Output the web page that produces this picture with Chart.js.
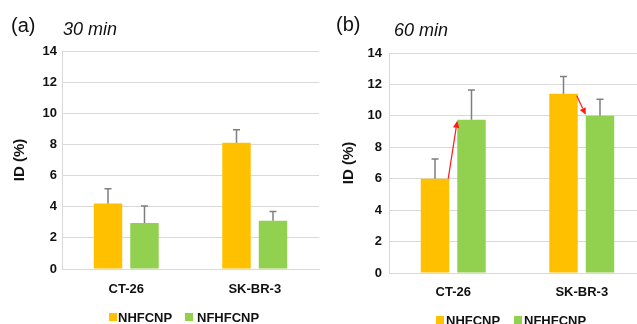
<!DOCTYPE html>
<html>
<head>
<meta charset="utf-8">
<script src="https://cdn.jsdelivr.net/npm/chart.js@4.4.1/dist/chart.umd.min.js"></script>
<style>
  html, body { margin:0; padding:0; background:#fff; }
  body { width:637px; height:324px; overflow:hidden; position:relative; font-family:"Liberation Sans", Arial, sans-serif; }
  canvas { position:absolute; top:0; }
  .t { position:absolute; line-height:1; color:#111; white-space:nowrap; }
  .lab { font-size:20px; }
  .tm { font-size:18px; font-style:italic; }
  .lg { position:absolute; font-size:13px; font-weight:bold; line-height:1; color:#111; white-space:nowrap; }
  .bx { position:absolute; width:8px; height:8px; }
</style>
</head>
<body>
<canvas id="c1" width="320" height="324" style="left:0"></canvas>
<canvas id="c2" width="330" height="324" style="left:320px"></canvas>

<div class="t lab" style="left:11px;top:15px">(a)</div>
<div class="t tm" style="left:63px;top:20px">30 min</div>
<div class="t lab" style="left:336px;top:14px">(b)</div>
<div class="t tm" style="left:394px;top:21px">60 min</div>

<div class="bx" style="left:109px;top:313px;background:#FFC000"></div>
<div class="lg" style="left:118px;top:311px">NHFCNP</div>
<div class="bx" style="left:185px;top:313px;background:#92D050"></div>
<div class="lg" style="left:197px;top:311px">NFHFCNP</div>

<div class="bx" style="left:436px;top:316px;background:#FFC000"></div>
<div class="lg" style="left:446px;top:314px">NHFCNP</div>
<div class="bx" style="left:514px;top:316px;background:#92D050"></div>
<div class="lg" style="left:524px;top:314px">NFHFCNP</div>

<script>
// ---- data ----
const categories = ['CT-26', 'SK-BR-3'];
const seriesNames = ['NHFCNP', 'NFHFCNP'];
// 30 min
const nh30 = [4.2, 8.1];
const nh30sd = [0.95, 0.85];
const nf30 = [2.95, 3.1];
const nf30sd = [1.1, 0.6];
// 60 min
const nh60 = [6.0, 11.4];
const nh60sd = [1.25, 1.1];
const nf60 = [9.75, 10.0];
const nf60sd = [1.9, 1.05];
const yTicks = [0, 2, 4, 6, 8, 10, 12, 14];

const ORANGE = '#FFC000', GREEN = '#92D050', GRID = '#d9d9d9';
Chart.defaults.font.family = '"Liberation Sans", Arial, sans-serif';
Chart.defaults.color = '#111';

const errorBars = {
  id: 'errorBars',
  afterDatasetsDraw(chart) {
    const ctx = chart.ctx, ys = chart.scales.y;
    chart.data.datasets.forEach((ds, di) => {
      const meta = chart.getDatasetMeta(di);
      meta.data.forEach((el, i) => {
        const top = ys.getPixelForValue(ds.data[i] + ds.sd[i]);
        ctx.save();
        ctx.strokeStyle = '#7f7f7f';
        ctx.lineWidth = 1.5;
        ctx.beginPath();
        ctx.moveTo(el.x, el.y);
        ctx.lineTo(el.x, top);
        ctx.moveTo(el.x - 3.5, top);
        ctx.lineTo(el.x + 3.5, top);
        ctx.stroke();
        ctx.restore();
      });
    });
  }
};

const arrows = {
  id: 'arrows',
  afterDatasetsDraw(chart, args, opts) {
    if (!opts.show) return;
    const ctx = chart.ctx;
    const m0 = chart.getDatasetMeta(0), m1 = chart.getDatasetMeta(1);
    m0.data.forEach((a, i) => {
      const b = m1.data[i];
      const x1 = a.x + a.width / 2 - 1, y1 = a.y + (i === 1 ? 2 : 0);
      const x2 = b.x - b.width / 2, y2 = b.y + (i === 1 ? -1 : 1);
      const ang = Math.atan2(y2 - y1, x2 - x1);
      const L = 7, W = 3.2;
      ctx.save();
      ctx.strokeStyle = '#ff1a1a';
      ctx.fillStyle = '#ff1a1a';
      ctx.lineWidth = 1.2;
      ctx.beginPath();
      ctx.moveTo(x1, y1);
      ctx.lineTo(x2 - L * Math.cos(ang), y2 - L * Math.sin(ang));
      ctx.stroke();
      ctx.beginPath();
      ctx.moveTo(x2, y2);
      ctx.lineTo(x2 - L * Math.cos(ang) + W * Math.sin(ang), y2 - L * Math.sin(ang) - W * Math.cos(ang));
      ctx.lineTo(x2 - L * Math.cos(ang) - W * Math.sin(ang), y2 - L * Math.sin(ang) + W * Math.cos(ang));
      ctx.closePath();
      ctx.fill();
      ctx.restore();
    });
  }
};

function makeChart(id, a, asd, b, bsd, cfg) {
  return new Chart(document.getElementById(id), {
    type: 'bar',
    data: {
      labels: categories,
      datasets: [
        { label: seriesNames[0], data: a, sd: asd, backgroundColor: ORANGE },
        { label: seriesNames[1], data: b, sd: bsd, backgroundColor: GREEN }
      ]
    },
    options: {
      responsive: false,
      animation: false,
      devicePixelRatio: 1,
      categoryPercentage: 0.568,
      barPercentage: 0.78,
      layout: { padding: { top: cfg.top, right: cfg.right, left: 0, bottom: 0 } },
      plugins: {
        legend: { display: false },
        tooltip: { enabled: false },
        arrows: { show: cfg.arrows }
      },
      scales: {
        x: {
          grid: { display: false, drawTicks: false },
          border: { color: GRID, width: 1 },
          ticks: { font: { size: 13, weight: 'bold' }, padding: cfg.xpad, color: '#111' },
          afterFit(s) { s.height = cfg.xh; }
        },
        y: {
          min: 0, max: 14,
          afterBuildTicks(s) { s.ticks = yTicks.map(v => ({ value: v })); },
          grid: { color: GRID, lineWidth: 1, drawTicks: false },
          border: { color: GRID, width: 1 },
          ticks: { font: { size: 13, weight: 'bold' }, padding: cfg.ypad, color: '#111' },
          title: { display: true, text: 'ID (%)', font: { size: 15, weight: 'bold' }, color: '#111', padding: { top: cfg.tpad, bottom: 0 } },
          afterFit(s) { s.width = cfg.yw; }
        }
      }
    },
    plugins: [errorBars, arrows]
  });
}

makeChart('c1', nh30, nh30sd, nf30, nf30sd, { top: 51, right: 1, yw: 62, xh: 55, xpad: 13, ypad: 5, tpad: 11, arrows: false });
makeChart('c2', nh60, nh60sd, nf60, nf60sd, { top: 53, right: 4, yw: 69, xh: 51, xpad: 12, ypad: 7, tpad: 20, arrows: true });
</script>
</body>
</html>
